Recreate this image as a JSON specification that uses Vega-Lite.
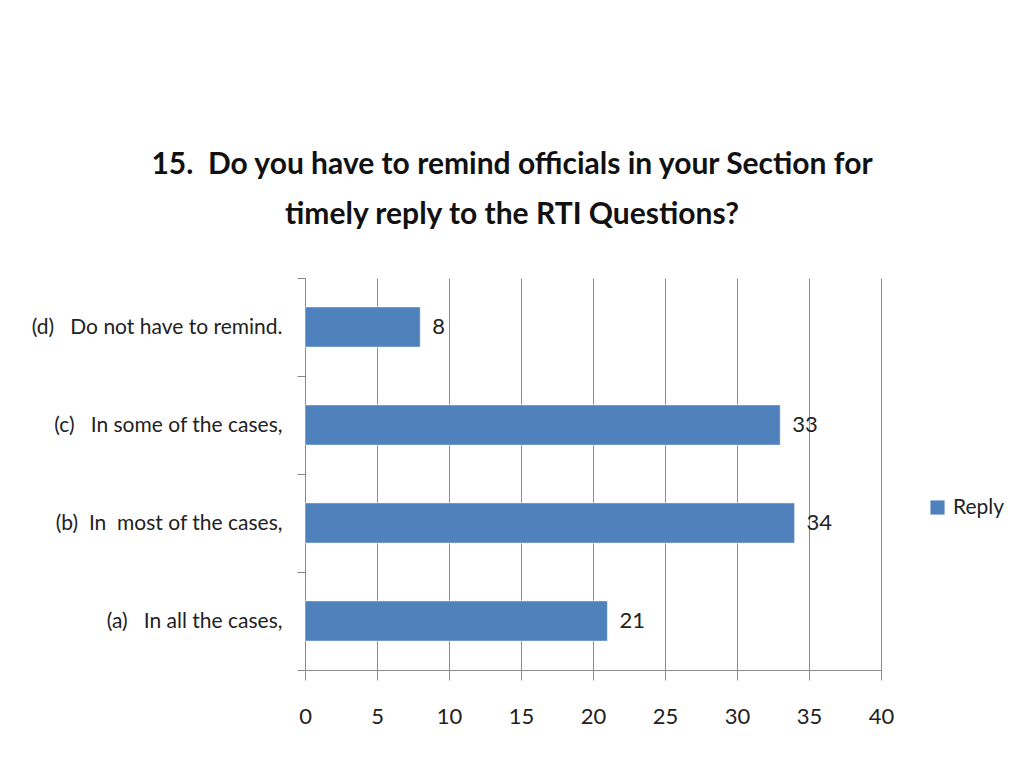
{
  "$schema": "https://vega.github.io/schema/vega-lite/v6.json",
  "autosize": "none",
  "width": 576,
  "height": 392,
  "padding": {"left": 305, "top": 278, "right": 143, "bottom": 98},
  "background": "white",
  "title": {
    "text": ["15.\u00a0\u00a0Do you have to remind officials in your Section for", "timely reply to the RTI Questions?"],
    "anchor": "middle",
    "frame": "group",
    "dx": -81,
    "offset": 37,
    "font": "Lato",
    "fontSize": 30,
    "fontWeight": "bold",
    "color": "#111111",
    "lineHeight": 50
  },
  "data": {
    "values": [
      {"answer": "(d)\u00a0\u00a0\u00a0Do not have to remind.", "order": 1, "series": "Reply", "count": 8},
      {"answer": "(c)\u00a0\u00a0\u00a0In some of the cases,", "order": 2, "series": "Reply", "count": 33},
      {"answer": "(b)\u00a0\u00a0In\u00a0\u00a0most of the cases,", "order": 3, "series": "Reply", "count": 34},
      {"answer": "(a)\u00a0\u00a0\u00a0In all the cases,", "order": 4, "series": "Reply", "count": 21}
    ]
  },
  "encoding": {
    "y": {
      "field": "answer",
      "type": "nominal",
      "sort": {"field": "order"},
      "scale": {"paddingInner": 0, "paddingOuter": 0},
      "axis": {
        "title": null,
        "grid": false,
        "tickBand": "extent",
        "tickSize": 8,
        "tickColor": "#888888",
        "domainColor": "#888888",
        "labelPadding": 15,
        "labelFont": "Lato",
        "labelFontSize": 21,
        "labelColor": "#222222",
        "labelLimit": 300
      }
    },
    "x": {
      "field": "count",
      "type": "quantitative",
      "scale": {"domain": [0, 40], "nice": false},
      "axis": {
        "title": null,
        "values": [0, 5, 10, 15, 20, 25, 30, 35, 40],
        "grid": true,
        "gridColor": "#8c8c8c",
        "tickSize": 10,
        "tickColor": "#8c8c8c",
        "domainColor": "#8c8c8c",
        "labelPadding": 26,
        "labelFont": "Lato",
        "labelFontSize": 22,
        "labelColor": "#222222",
        "labelFlush": false
      }
    }
  },
  "layer": [
    {
      "mark": {"type": "bar", "height": {"band": 0.41}, "stroke": "#ffffff", "strokeWidth": 0.5},
      "encoding": {
        "color": {
          "field": "series",
          "type": "nominal",
          "scale": {"range": ["#4f81bd"]},
          "legend": {
            "title": null,
            "orient": "none",
            "legendX": 622,
            "legendY": 219,
            "symbolType": "square",
            "symbolSize": 200,
            "symbolStrokeWidth": 0,
            "labelFont": "Lato",
            "labelFontSize": 21,
            "labelColor": "#222222",
            "labelOffset": 5
          }
        }
      }
    },
    {
      "mark": {"type": "text", "align": "left", "baseline": "middle", "dx": 12, "font": "Lato", "fontSize": 22, "color": "#222222"},
      "encoding": {"text": {"field": "count", "type": "quantitative"}}
    }
  ],
  "config": {"view": {"stroke": null}}
}
